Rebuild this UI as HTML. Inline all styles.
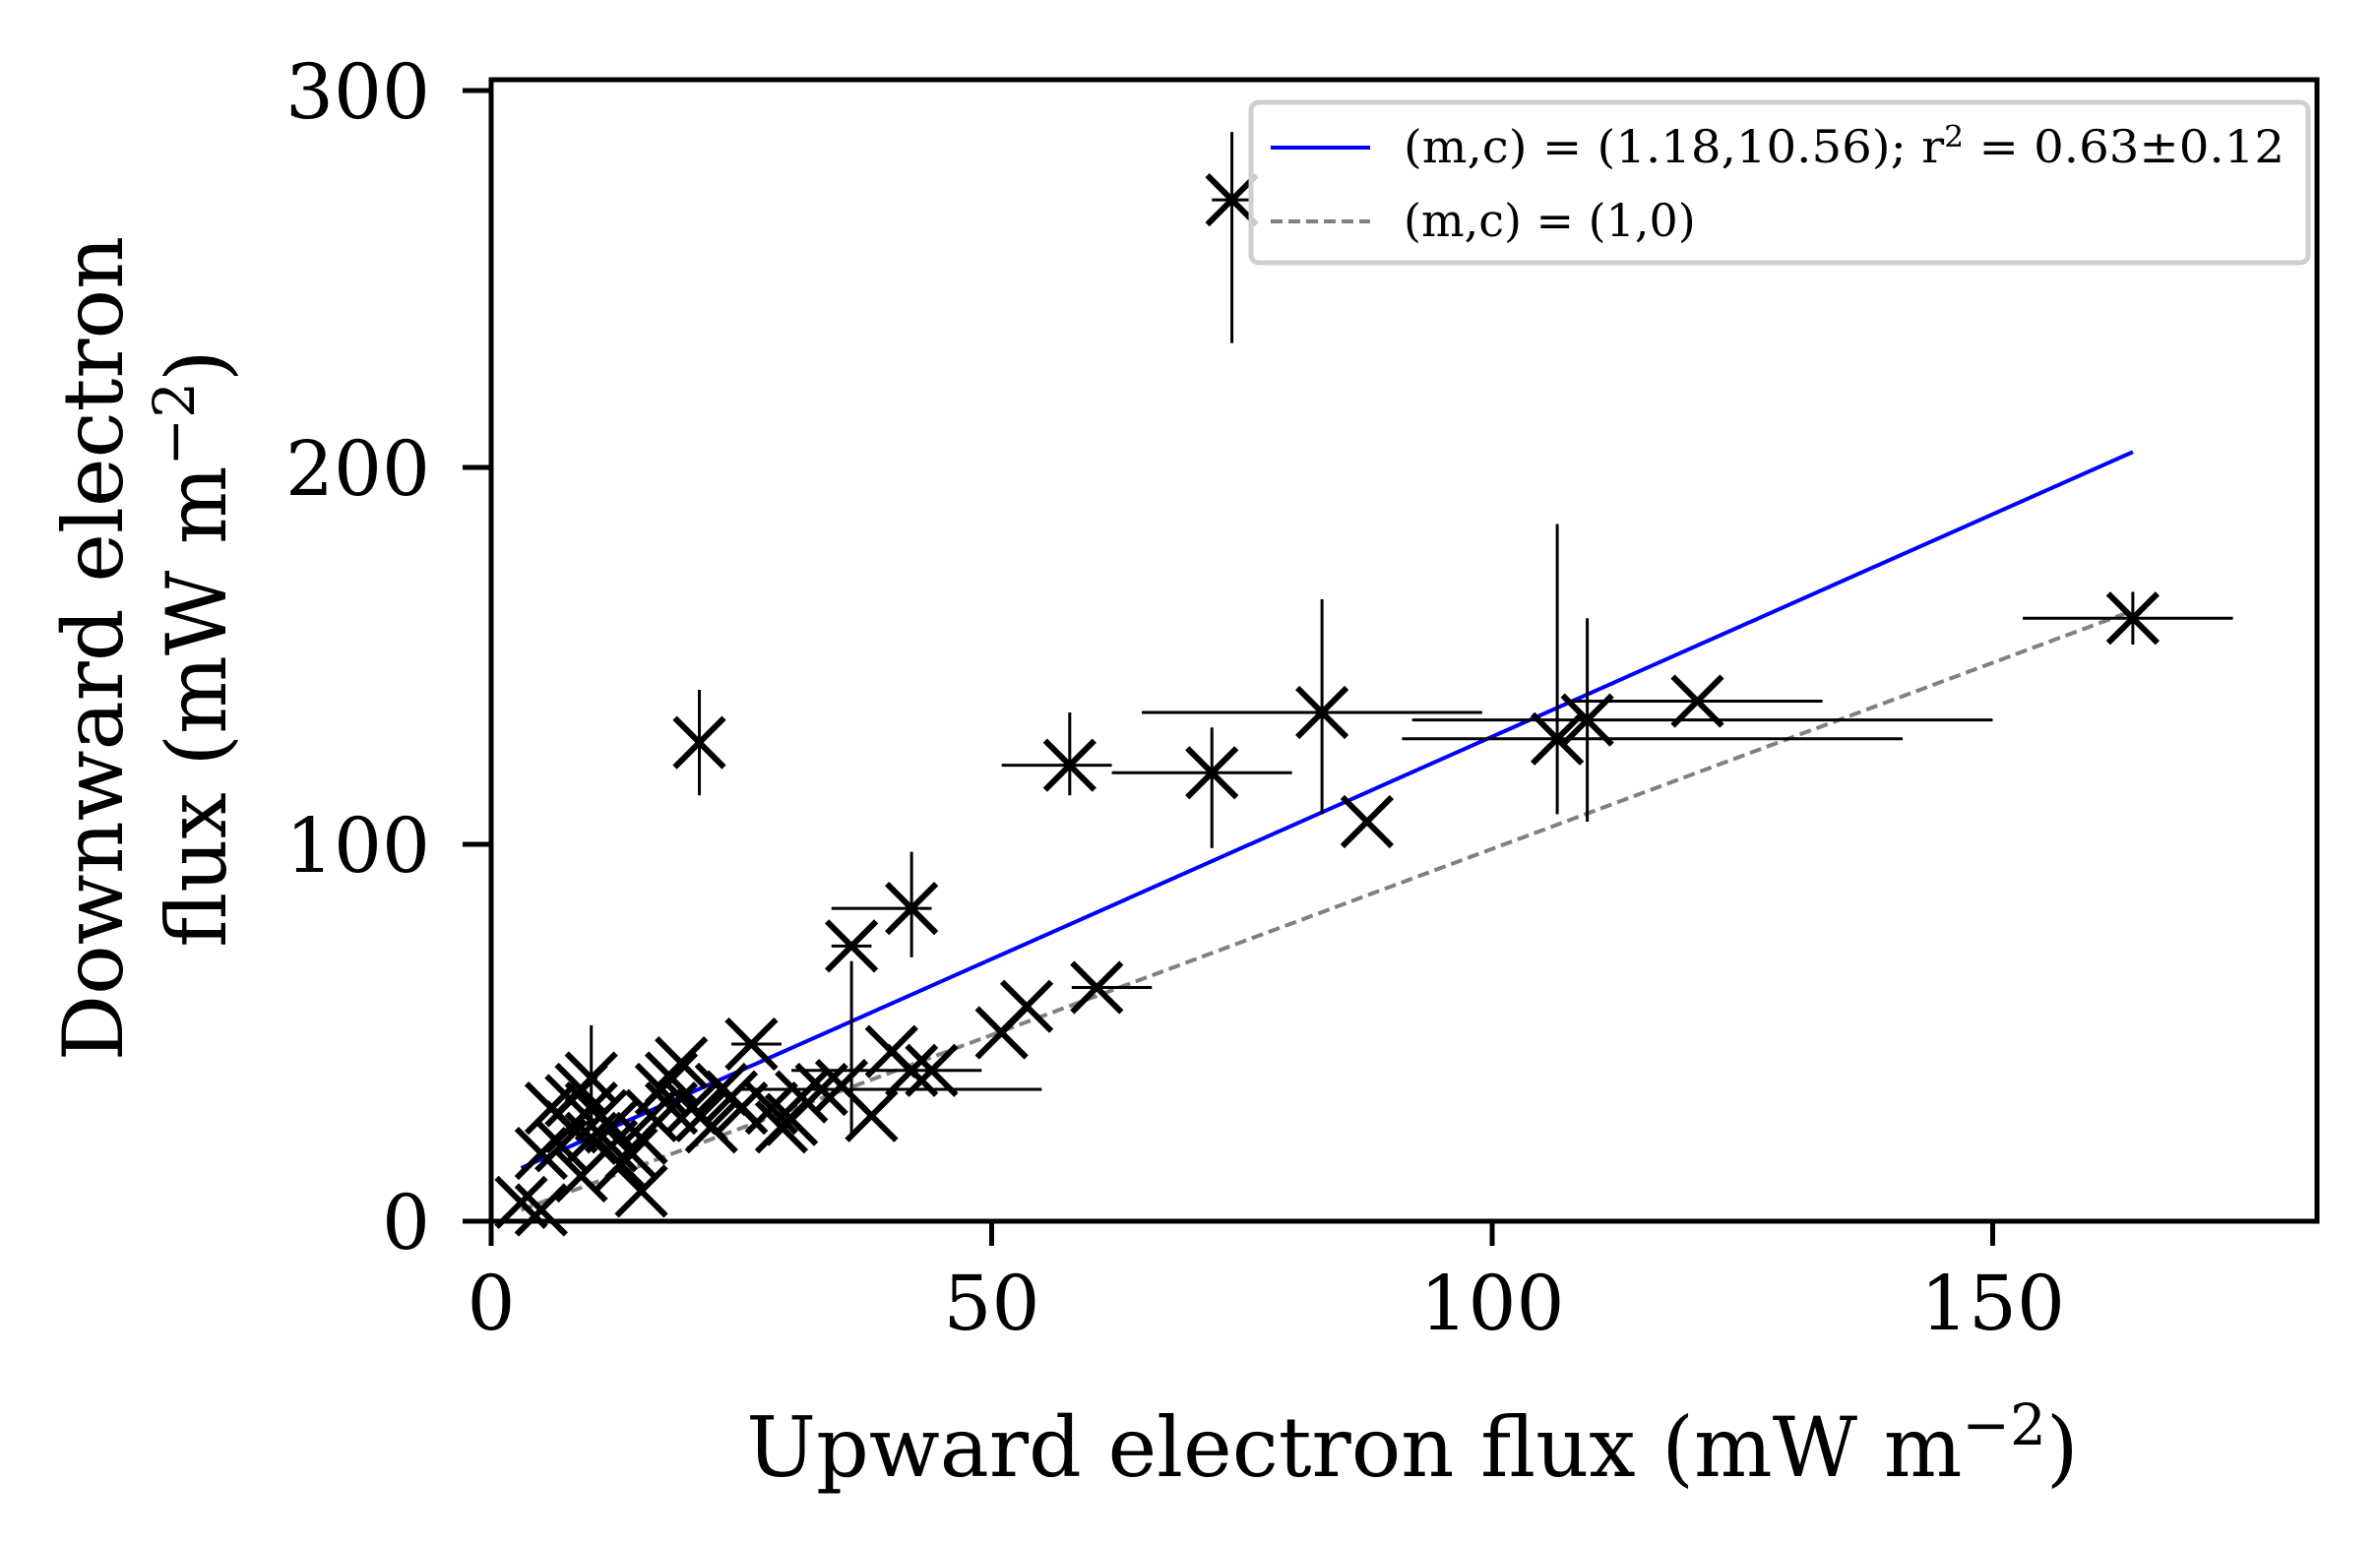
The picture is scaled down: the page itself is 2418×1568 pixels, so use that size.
<!DOCTYPE html>
<html><head><meta charset="utf-8"><style>html,body{margin:0;padding:0;background:#fff}</style></head>
<body>
<svg id="s" width="2418" height="1563" xmlns="http://www.w3.org/2000/svg" font-family="'DejaVu Serif','Liberation Serif',serif">
<rect width="2418" height="1563" fill="#fff"/>
<g id="d"></g>
<rect x="499" y="81" width="1855" height="1160" fill="none" stroke="#000" stroke-width="5"/>
<g stroke="#000" stroke-width="5">
<line x1="499" y1="1241" x2="499" y2="1266"/><line x1="1007.5" y1="1241" x2="1007.5" y2="1266"/><line x1="1516" y1="1241" x2="1516" y2="1266"/><line x1="2024.5" y1="1241" x2="2024.5" y2="1266"/>
<line x1="470" y1="1241" x2="499" y2="1241"/><line x1="470" y1="858" x2="499" y2="858"/><line x1="470" y1="475" x2="499" y2="475"/><line x1="470" y1="92" x2="499" y2="92"/>
</g>
<g font-size="77" text-anchor="middle">
<text x="499" y="1351">0</text><text x="1007.5" y="1351">50</text><text x="1516" y="1351">100</text><text x="2024.5" y="1351">150</text>
</g>
<g font-size="77" text-anchor="end">
<text x="437" y="1269">0</text><text x="437" y="886">100</text><text x="437" y="503">200</text><text x="437" y="120">300</text>
</g>
<text x="1435" y="1500" font-size="84" text-anchor="middle">Upward electron flux (mW m<tspan dy="-32" font-size="58">−2</tspan><tspan dy="32">)</tspan></text>
<g transform="translate(124,659) rotate(-90)"><text x="0" y="0" font-size="84" text-anchor="middle">Downward electron</text></g>
<g transform="translate(229,659) rotate(-90)"><text x="0" y="0" font-size="84" text-anchor="middle">flux (mW m<tspan dy="-32" font-size="58">−2</tspan><tspan dy="32">)</tspan></text></g>
<rect x="1271" y="104" width="1074" height="163" rx="8" fill="#fff" fill-opacity="0.8" stroke="#d0d0d0" stroke-width="5"/>
<line x1="1291" y1="150" x2="1392" y2="150" stroke="#0000ff" stroke-width="4"/>
<line x1="1291" y1="225" x2="1392" y2="225" stroke="#808080" stroke-width="4" stroke-dasharray="12,6"/>
<text x="1426" y="165" font-size="46" textLength="895" lengthAdjust="spacingAndGlyphs">(m,c) = (1.18,10.56); r<tspan dy="-16" font-size="30">2</tspan><tspan dy="16"> = 0.63±0.12</tspan></text>
<text x="1426" y="240" font-size="46">(m,c) = (1,0)</text>
</svg>
<script>
var X=v=>499+v*10.17, Y=v=>1241-v*3.83;
var P=[[74,271,72,76,233,289],[20.8,127,0,0,113,141],[57.8,121,51,62,113,135],[72,119,62,80,99,131],[83,135,65,99,108,165],[87.5,106],[106.5,128,91,141,108,185],[109.5,133,92,150,106,160],[120.5,138,108,133,0,0],[164,160,153,174,153,167],[36,73,34,38,22,69],[42,83,34,44,70,98],[60.5,62,58,66,0,0],[53.5,57],[51,50],[40,45],[42,40],[44,40,30,49,0,0],[38,28],[33,35,25,55,0,0],[30,27],[28,30],[26,47,24,29,0,0],[24,33],[22,25],[20,30],[18,38],[19,42],[17,35],[15,22],[14,18],[12,25],[10,30],[9,35],[8,32],[10,22],[11,28],[7,20],[5,18],[3,5],[5,3],[9,12],[13,15],[15,8],[10,38,0,0,25,52],[16,28],[23,35],[25,30],[21,28],[12,20],[8,25],[6,30],[31,33],[35,36],[29,25],[18,30]];
var h='';
h+='<line x1="'+X(3)+'" y1="'+Y(14.1)+'" x2="'+X(164)+'" y2="'+Y(204.1)+'" stroke="#0000ff" stroke-width="4"/>';
h+='<line x1="'+X(3)+'" y1="'+Y(3)+'" x2="'+X(164)+'" y2="'+Y(162)+'" stroke="#808080" stroke-width="4" stroke-dasharray="12,6"/>';
P.forEach(p=>{var x=X(p[0]),y=Y(p[1]);
if(p.length>2){if(p[2]||p[3])h+='<line x1="'+X(p[2])+'" y1="'+y+'" x2="'+X(p[3])+'" y2="'+y+'" stroke="#000" stroke-width="3"/>';
if(p[4]||p[5])h+='<line x1="'+x+'" y1="'+Y(p[4])+'" x2="'+x+'" y2="'+Y(p[5])+'" stroke="#000" stroke-width="3"/>';}
var r=25;h+='<path d="M'+(x-r)+' '+(y-r)+'L'+(x+r)+' '+(y+r)+'M'+(x-r)+' '+(y+r)+'L'+(x+r)+' '+(y-r)+'" stroke="#000" stroke-width="6" fill="none"/>';});
document.getElementById('d').innerHTML=h;
</script>
</body></html>
